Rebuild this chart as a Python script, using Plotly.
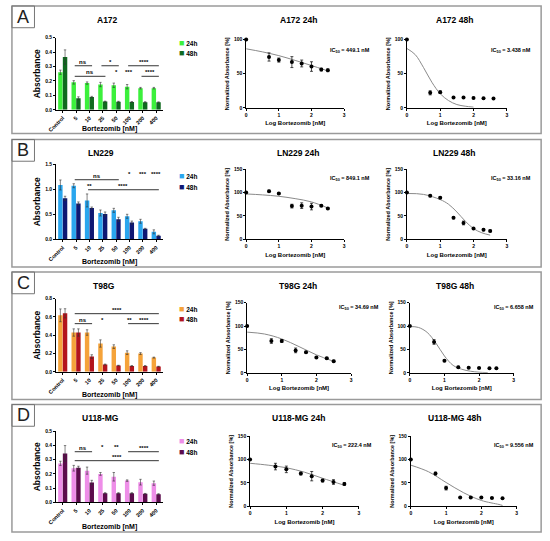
import plotly.graph_objects as go

W, H = 550, 541

concentrations = ["Control", "5", "10", "25", "50", "100", "200", "400"]
cell_lines = ["A172", "LN229", "T98G", "U118-MG"]
panel_letters = ["A", "B", "C", "D"]

# absorbance (mean, SD) for 24h and 48h
abs24_A172 = [0.26, 0.19, 0.185, 0.175, 0.17, 0.16, 0.15, 0.15]
sd24_A172 = [0.015, 0.012, 0.008, 0.015, 0.015, 0.015, 0.005, 0.005]
abs48_A172 = [0.365, 0.08, 0.088, 0.057, 0.056, 0.054, 0.053, 0.052]
sd48_A172 = [0.05, 0.01, 0.005, 0.003, 0.003, 0.003, 0.003, 0.003]

abs24_LN229 = [1.085, 1.07, 0.776, 0.526, 0.579, 0.46, 0.36, 0.15]
sd24_LN229 = [0.1, 0.04, 0.13, 0.06, 0.04, 0.04, 0.04, 0.04]
abs48_LN229 = [0.82, 0.717, 0.625, 0.506, 0.40, 0.335, 0.21, 0.072]
sd48_LN229 = [0.04, 0.03, 0.02, 0.04, 0.04, 0.03, 0.01, 0.01]

abs24_T98G = [0.618, 0.43, 0.43, 0.31, 0.276, 0.21, 0.2, 0.156]
sd24_T98G = [0.07, 0.04, 0.03, 0.04, 0.02, 0.02, 0.01, 0.005]
abs48_T98G = [0.64, 0.43, 0.167, 0.08, 0.069, 0.065, 0.065, 0.058]
sd48_T98G = [0.05, 0.04, 0.02, 0.005, 0.003, 0.003, 0.003, 0.003]

abs24_U118 = [0.274, 0.24, 0.223, 0.2, 0.18, 0.153, 0.142, 0.135]
sd24_U118 = [0.015, 0.02, 0.025, 0.01, 0.03, 0.005, 0.02, 0.015]
abs48_U118 = [0.344, 0.244, 0.14, 0.065, 0.065, 0.065, 0.06, 0.058]
sd48_U118 = [0.055, 0.01, 0.015, 0.003, 0.003, 0.003, 0.003, 0.003]

# significance marks: (label, from, to, height)
sig_A172 = [("ns", "5", "10", 0.305), ("ns", "5", "25", 0.232), ("*", "25", "50", 0.305),
            ("*", "50", "50", 0.232), ("***", "100", "100", 0.232),
            ("****", "100", "400", 0.305), ("****", "200", "400", 0.232)]
sig_LN229 = [("ns", "5", "50", 1.19), ("**", "10", "10", 0.99), ("*", "100", "100", 1.22),
             ("***", "200", "200", 1.22), ("****", "400", "400", 1.22), ("****", "10", "400", 0.99)]
sig_T98G = [("****", "5", "400", 0.636), ("ns", "5", "10", 0.527), ("*", "25", "25", 0.527),
            ("**", "100", "100", 0.527), ("****", "100", "400", 0.527)]
sig_U118 = [("ns", "5", "10", 0.356), ("*", "25", "25", 0.36), ("**", "50", "50", 0.36),
            ("****", "100", "400", 0.356), ("****", "5", "400", 0.293)]

# dose response (log nM vs normalized absorbance %), fitted curve
logx_A172_24 = [0, 0.7, 1.0, 1.4, 1.7, 2.0, 2.3, 2.5]
norm_A172_24 = [100, 74.5, 70, 67, 65, 60.5, 56, 55]
err_A172_24 = [0, 6, 3, 8, 5, 7, 2, 2]
fitx_A172_24 = [0, 0.5, 1, 1.5, 2, 2.45]
fity_A172_24 = [86.5, 82, 76.5, 69.5, 62, 55]

logx_A172_48 = [0, 0.7, 1.0, 1.4, 1.7, 2.0, 2.3, 2.6]
norm_A172_48 = [100, 22, 23, 15, 15, 14.5, 14, 13.5]
err_A172_48 = [0, 3, 2, 1, 1, 1, 1, 1]
fitx_A172_48 = [0, 0.25, 0.5, 0.75, 1.0, 1.25, 1.5, 1.75, 2.0]
fity_A172_48 = [87, 78, 59, 37.5, 20.7, 10.6, 4.8, 2.4, 1]

logx_LN229_24 = [0, 0.7, 1.0, 1.4, 1.7, 2.0, 2.3, 2.5]
norm_LN229_24 = [100, 103, 98, 71, 72, 70, 72, 66]
err_LN229_24 = [0, 2, 2, 4, 6, 7, 2, 2]
fitx_LN229_24 = [0, 0.5, 1, 1.5, 2, 2.5]
fity_LN229_24 = [97, 95, 92, 87, 80, 67]

logx_LN229_48 = [0, 0.7, 1.0, 1.4, 1.7, 2.0, 2.3, 2.5]
norm_LN229_48 = [100, 93, 89, 46, 35, 23, 20.5, 18]
err_LN229_48 = [0, 2, 2, 2, 4, 2, 2, 2]
fitx_LN229_48 = [0, 0.5, 1, 1.25, 1.5, 1.75, 2, 2.25, 2.5]
fity_LN229_48 = [98, 96, 85, 75, 58.5, 39, 23, 14, 9]

logx_T98G_24 = [0, 0.7, 1.0, 1.4, 1.7, 2.0, 2.3, 2.5]
norm_T98G_24 = [100, 68, 68, 48, 44, 33, 31, 25]
err_T98G_24 = [0, 5, 3, 5, 2, 2, 2, 2]
fitx_T98G_24 = [0, 0.5, 1, 1.5, 2, 2.5]
fity_T98G_24 = [87, 83, 72.5, 56, 38.5, 24.5]

logx_T98G_48 = [0, 0.7, 1.0, 1.4, 1.7, 2.0, 2.3, 2.5]
norm_T98G_48 = [100, 66, 26, 12, 11, 10.5, 10, 10]
err_T98G_48 = [0, 5, 2, 2, 1, 1, 1, 1]
fitx_T98G_48 = [0, 0.25, 0.5, 0.75, 1, 1.25, 1.5, 1.75, 2, 2.25]
fity_T98G_48 = [99, 97, 86.5, 64, 36, 16, 7.7, 3.5, 1.4, 0.5]

logx_U118_24 = [0, 0.7, 1.0, 1.4, 1.7, 2.0, 2.3, 2.6]
norm_U118_24 = [100, 85, 79, 70, 64.5, 55, 52, 48]
err_U118_24 = [0, 7, 7, 3, 10, 3, 5, 3]
fitx_U118_24 = [0, 0.5, 1, 1.5, 2, 2.6]
fity_U118_24 = [92, 88, 82.5, 73, 60, 45]

logx_U118_48 = [0, 0.7, 1.0, 1.4, 1.7, 2.0, 2.3, 2.6]
norm_U118_48 = [100, 70, 39, 19, 19, 19, 18, 17.5]
err_U118_48 = [0, 3, 4, 1, 1, 1, 1, 1]
fitx_U118_48 = [0, 0.5, 1, 1.5, 2, 2.5, 2.6]
fity_U118_48 = [88, 74, 51, 29, 12.6, 4, 2]

ic50_24 = ["449.1", "849.1", "34.69", "222.4"]
ic50_48 = ["3.438", "33.16", "6.658", "9.556"]

colors24 = ["#3cf03c", "#2aa6ee", "#f5a33a", "#ee8ee8"]
colors48 = ["#0f6a1f", "#0e1873", "#b3141c", "#5c0c4c"]

bar_rows = [
    (abs24_A172, sd24_A172, abs48_A172, sd48_A172, sig_A172),
    (abs24_LN229, sd24_LN229, abs48_LN229, sd48_LN229, sig_LN229),
    (abs24_T98G, sd24_T98G, abs48_T98G, sd48_T98G, sig_T98G),
    (abs24_U118, sd24_U118, abs48_U118, sd48_U118, sig_U118),
]
curve_rows = [
    ((logx_A172_24, norm_A172_24, err_A172_24, fitx_A172_24, fity_A172_24),
     (logx_A172_48, norm_A172_48, err_A172_48, fitx_A172_48, fity_A172_48)),
    ((logx_LN229_24, norm_LN229_24, err_LN229_24, fitx_LN229_24, fity_LN229_24),
     (logx_LN229_48, norm_LN229_48, err_LN229_48, fitx_LN229_48, fity_LN229_48)),
    ((logx_T98G_24, norm_T98G_24, err_T98G_24, fitx_T98G_24, fity_T98G_24),
     (logx_T98G_48, norm_T98G_48, err_T98G_48, fitx_T98G_48, fity_T98G_48)),
    ((logx_U118_24, norm_U118_24, err_U118_24, fitx_U118_24, fity_U118_24),
     (logx_U118_48, norm_U118_48, err_U118_48, fitx_U118_48, fity_U118_48)),
]

# layout in pixels (panel top + offsets)
rows_top = [3, 138, 272, 406]
panel_h = 129
bar_dom_x = (48, 157)
bar_dom_y = [(32, 105), (25, 101), (27, 101), (27, 99)]
bar_ymax = [0.5, 1.5, 0.8, 0.5]
bar_dtick = [0.1, 0.5, 0.2, 0.1]
bar_title_x = [101, 94, 97, 93]
curve_dom_y = [(34, 103), (30, 101), (31, 102), (32, 103)]
curve24_dom_x = [(242, 342), (242, 342), (243, 349), (246, 357)]
curve48_dom_x = [(406, 508), (406, 508), (409, 515), (410, 518)]
curve_ymax = [100, 150, 150, 150]
ic_y = [45, 39, 36, 41]
ic24_x = [348, 348, 357, 350]
ic48_x = [512, 512, 515, 515]

FONT = "Arial, Liberation Sans, sans-serif"


def pxx(v):
    return v / W


def pxy(v):
    return 1 - v / H


def base_axis(tick_size=5):
    return dict(showline=True, linecolor="black", linewidth=0.8, ticks="outside",
                ticklen=2, tickwidth=0.8, tickcolor="black", showgrid=False,
                zeroline=False, tickfont=dict(size=tick_size, color="black", weight="bold"))


def ax(i):
    return ("x" if i == 1 else f"x{i}"), ("y" if i == 1 else f"y{i}")


def label(x, y, text, size, **kw):
    fig.add_annotation(x=pxx(x), y=pxy(y), xref="paper", yref="paper", text=text,
                       showarrow=False, xanchor=kw.pop("xanchor", "center"), yanchor="middle",
                       font=dict(size=size, color=kw.pop("color", "black"),
                                 weight=kw.pop("weight", "bold")), **kw)


fig = go.Figure()
xs = list(range(len(concentrations)))

for r in range(4):
    T = rows_top[r]
    a24, s24, a48, s48, sig = bar_rows[r]
    ib, i24, i48 = 3 * r + 1, 3 * r + 2, 3 * r + 3

    xa, ya = ax(ib)
    for vals, sds, col, grp in [(a24, s24, colors24[r], "a"), (a48, s48, colors48[r], "b")]:
        fig.add_trace(go.Bar(
            x=xs, y=vals, marker_color=col, marker_line_width=0, offsetgroup=grp,
            error_y=dict(type="data", array=sds, color="#333", thickness=0.6, width=1.2),
            xaxis=xa, yaxis=ya, showlegend=False))

    for text, c0, c1, level in sig:
        i, j = concentrations.index(c0), concentrations.index(c1)
        if i != j:
            fig.add_shape(type="line", xref=xa, yref=ya, x0=i - 0.1, x1=j + 0.2,
                          y0=level, y1=level, line=dict(color="black", width=0.8))
            xt = (i + j + 0.1) / 2
        else:
            xt = i
        fig.add_annotation(x=xt, y=level, xref=xa, yref=ya, text=text, showarrow=False,
                           xanchor="center", yanchor="bottom", yshift=-1,
                           font=dict(size=6, color="black", weight="bold"))

    bx = base_axis(5.5)
    bx.update(domain=[pxx(bar_dom_x[0]), pxx(bar_dom_x[1])], range=[-0.5, 7.5],
              tickvals=xs, ticktext=concentrations, tickangle=-45, anchor=ya)
    by = base_axis()
    by.update(domain=[pxy(T + bar_dom_y[r][1]), pxy(T + bar_dom_y[r][0])],
              range=[0, bar_ymax[r]], dtick=bar_dtick[r], tickformat=".1f", anchor=xa,
              title=dict(text="Absorbance", standoff=3,
                         font=dict(size=8.5, weight="bold", color="black")))
    fig.update_layout(**{("xaxis" if ib == 1 else f"xaxis{ib}"): bx,
                         ("yaxis" if ib == 1 else f"yaxis{ib}"): by})

    # bar chart titles and legend
    label(bar_title_x[r], T + 14, cell_lines[r], 8.5)
    label((bar_dom_x[0] + bar_dom_x[1]) / 2, T + 124, "Bortezomib [nM]", 7)
    for k, (col, name) in enumerate([(colors24[r], "24h"), (colors48[r], "48h")]):
        label(171, T + 37 + 11 * k,
              f'<span style="color:{col};font-size:9px">■</span> {name}', 6.5,
              xanchor="left")

    # dose-response plots
    for idx, (data, dom_x, tcx, icx, ic, hours) in enumerate([
            (curve_rows[r][0], curve24_dom_x[r], 295, ic24_x[r], ic50_24[r], "24h"),
            (curve_rows[r][1], curve48_dom_x[r], 455, ic48_x[r], ic50_48[r], "48h")]):
        ci = i24 if idx == 0 else i48
        cxa, cya = ax(ci)
        lx, ly, le, fx, fy = data
        fig.add_trace(go.Scatter(x=fx, y=fy, mode="lines",
                                 line=dict(color="#8a8a8a", width=1, shape="spline"),
                                 xaxis=cxa, yaxis=cya, showlegend=False))
        fig.add_trace(go.Scatter(x=lx, y=ly, mode="markers", marker=dict(color="black", size=4),
                                 error_y=dict(type="data", array=le, color="black",
                                              thickness=0.7, width=1.5),
                                 cliponaxis=False, xaxis=cxa, yaxis=cya, showlegend=False))
        cx = base_axis()
        cx.update(domain=[pxx(dom_x[0]), pxx(dom_x[1])], range=[0, 3], dtick=1, anchor=cya,
                  title=dict(text="Log Bortezomib [nM]", standoff=4,
                             font=dict(size=6, weight="bold", color="black")))
        cy = base_axis()
        cy.update(domain=[pxy(T + curve_dom_y[r][1]), pxy(T + curve_dom_y[r][0])],
                  range=[0, curve_ymax[r]], dtick=50, anchor=cxa,
                  title=dict(text="Normalized Absorbance [%]", standoff=3,
                             font=dict(size=5.5, weight="bold", color="black")))
        fig.update_layout(**{f"xaxis{ci}": cx, f"yaxis{ci}": cy})
        label(tcx, T + 14, f"{cell_lines[r]} {hours}", 8.5)
        label(icx, T + ic_y[r], f"IC<sub>50</sub> = {ic} nM", 5.5)

    # panel frame and letter
    fig.add_shape(type="rect", xref="paper", yref="paper", x0=pxx(3), x1=pxx(543),
                  y0=pxy(T + panel_h), y1=pxy(T), line=dict(color="#9a9a9a", width=1.5))
    fig.add_shape(type="rect", xref="paper", yref="paper", x0=pxx(3), x1=pxx(26),
                  y0=pxy(T + 22), y1=pxy(T), line=dict(color="#777", width=1))
    label(14.5, T + 11, panel_letters[r], 18, color="#222", weight="normal")

fig.update_layout(width=W, height=H, margin=dict(l=0, r=0, t=0, b=0),
                  plot_bgcolor="white", paper_bgcolor="white",
                  barmode="group", bargap=0.3, bargroupgap=0.05,
                  font=dict(family=FONT, color="black"), showlegend=False)

fig.write_html("out.html", config={"displayModeBar": False},
               post_script="document.body.style.margin='0';")
